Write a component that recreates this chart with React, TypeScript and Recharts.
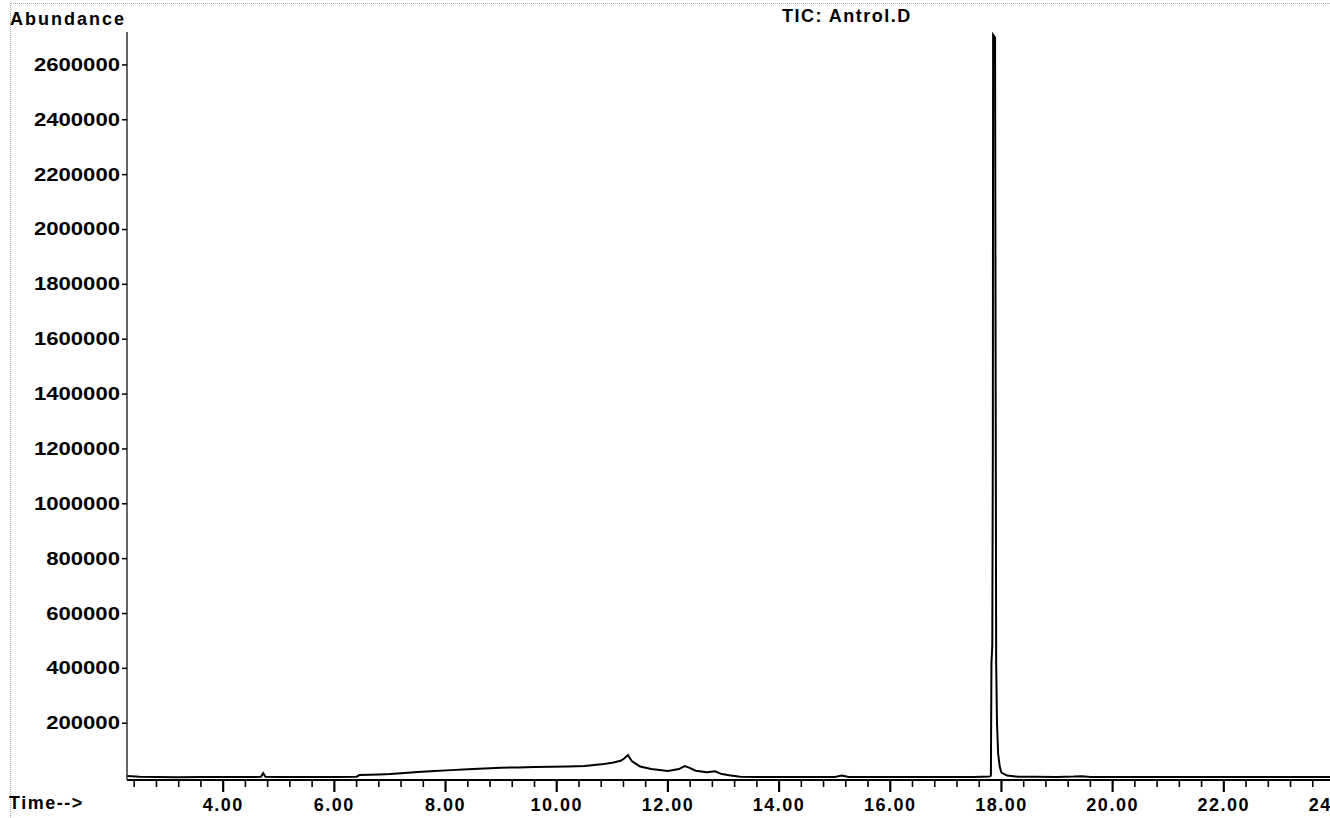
import { LineChart, Line, XAxis, YAxis } from "recharts";

// retention time (min) and abundance
const times = [
  2.27, 2.5, 2.8, 3.2, 3.6, 4.0, 4.4, 4.68, 4.72, 4.76, 5.0, 5.5, 6.0, 6.4, 6.45, 6.8, 7.0, 7.2,
  7.5, 7.8, 8.1, 8.4, 8.7, 9.0, 9.3, 9.6, 9.9, 10.2, 10.5, 10.8, 11.0, 11.15, 11.22, 11.28, 11.35,
  11.5, 11.7, 12.0, 12.2, 12.3, 12.38, 12.5, 12.7, 12.85, 12.95, 13.1, 13.3, 13.6, 14.0, 14.5, 15.0,
  15.13, 15.25, 15.6, 16.0, 16.5, 17.0, 17.5, 17.78, 17.81, 17.82, 17.835, 17.845, 17.85, 17.885,
  17.895, 17.905, 17.92, 17.94, 17.97, 18.0, 18.1, 18.3, 18.6, 19.0, 19.3, 19.45, 19.6, 20.0, 20.5,
  21.0, 21.5, 22.0, 22.5, 23.0, 23.5, 24.0,
];

const abundance = [
  8000, 5000, 4000, 3000, 4000, 3500, 4000, 4500, 18000, 5000, 4000, 3500, 4000, 5000, 11000, 13000,
  15000, 18000, 22000, 26000, 29000, 32000, 35000, 38000, 39000, 40000, 41000, 42000, 44000, 50000,
  56000, 63000, 72000, 84000, 62000, 42000, 33000, 26000, 33000, 44000, 38000, 27000, 21000, 25000,
  16000, 10000, 5000, 4000, 4000, 3500, 4000, 9000, 4000, 3500, 4000, 3500, 4000, 4000, 6000, 9000,
  420000, 480000, 1200000, 2710000, 2700000, 1500000, 420000, 200000, 90000, 40000, 20000, 9000,
  5000, 4500, 4000, 5500, 7000, 4000, 3500, 4000, 3500, 4000, 3500, 4000, 3500, 4000, 3500,
];

const yTicks = [
  200000, 400000, 600000, 800000, 1000000, 1200000, 1400000, 1600000, 1800000, 2000000, 2200000,
  2400000, 2600000,
];

const majorTimes = [4, 6, 8, 10, 12, 14, 16, 18, 20, 22, 24];
const minorTimes = [
  2.4, 2.8, 3.2, 3.6, 4.4, 4.8, 5.2, 5.6, 6.4, 6.8, 7.2, 7.6, 8.4, 8.8, 9.2, 9.6, 10.4, 10.8, 11.2,
  11.6, 12.4, 12.8, 13.2, 13.6, 14.4, 14.8, 15.2, 15.6, 16.4, 16.8, 17.2, 17.6, 18.4, 18.8, 19.2,
  19.6, 20.4, 20.8, 21.2, 21.6, 22.4, 22.8, 23.2, 23.6,
];

const data = times.map((t, i) => ({ t, v: abundance[i] }));
const xTicks = [...majorTimes, ...minorTimes].sort((a, b) => a - b);

const font = '"Liberation Sans", Arial, sans-serif';

const XTick = (props: any) => {
  const { x, y, payload } = props;
  const major = majorTimes.includes(payload.value);
  return (
    <g>
      <line x1={x} x2={x} y1={y} y2={y + (major ? 12 : 7)} stroke="#000" strokeWidth={major ? 2.2 : 1.6} />
      {major && (
        <text
          x={x}
          y={y + 31}
          textAnchor="middle"
          fontFamily={font}
          fontWeight="bold"
          fontSize={18}
          letterSpacing={1.5}
          fill="#000"
        >
          {payload.value.toFixed(2)}
        </text>
      )}
    </g>
  );
};

const YTick = (props: any) => {
  const { x, y, payload } = props;
  const label = String(payload.value);
  return (
    <text
      x={x}
      y={y + 6}
      textAnchor="end"
      fontFamily={font}
      fontWeight="bold"
      fontSize={18}
      textLength={label.length * 12.3}
      lengthAdjust="spacingAndGlyphs"
      fill="#000"
    >
      {label}
    </text>
  );
};

const labelStyle: React.CSSProperties = {
  position: "absolute",
  fontFamily: font,
  fontWeight: "bold",
  fontSize: 18,
  color: "#000",
  lineHeight: "20px",
  whiteSpace: "nowrap",
};

export default function App() {
  return (
    <div
      style={{
        position: "fixed",
        left: 0,
        top: 0,
        width: 1330,
        height: 818,
        overflow: "hidden",
        background: "#fff",
      }}
    >
      {/* dotted scan frame */}
      <div style={{ position: "absolute", left: 10, top: 3, width: 1320, borderTop: "1px dotted #aaa" }} />
      <div style={{ position: "absolute", left: 10, top: 3, height: 815, borderLeft: "1px dotted #aaa" }} />

      <div style={{ ...labelStyle, left: 10, top: 9, letterSpacing: 2 }}>Abundance</div>
      <div style={{ ...labelStyle, left: 782, top: 6, letterSpacing: 1.5 }}>TIC: Antrol.D</div>
      <div style={{ ...labelStyle, left: 9, top: 793, letterSpacing: 1.5 }}>Time--&gt;</div>

      <div style={{ position: "absolute", left: 0, top: 0 }}>
        <LineChart width={1345} height={818} data={data} margin={{ top: 32, right: 10, left: 7, bottom: 0 }}>
          <XAxis
            dataKey="t"
            type="number"
            domain={[2.27, 24]}
            ticks={xTicks}
            interval={0}
            height={38}
            tickSize={0}
            tickMargin={0}
            tickLine={false}
            axisLine={{ stroke: "#000", strokeWidth: 2.2 }}
            tick={<XTick />}
            allowDataOverflow
          />
          <YAxis
            type="number"
            domain={[-7000, 2720000]}
            ticks={yTicks}
            interval={0}
            width={120}
            tickSize={5}
            tickMargin={2}
            tickLine={{ stroke: "#000", strokeWidth: 1.5 }}
            axisLine={{ stroke: "#333", strokeWidth: 1.5 }}
            tick={<YTick />}
            allowDataOverflow
          />
          <Line
            type="linear"
            dataKey="v"
            stroke="#000"
            strokeWidth={2}
            dot={false}
            isAnimationActive={false}
          />
        </LineChart>
      </div>
    </div>
  );
}
